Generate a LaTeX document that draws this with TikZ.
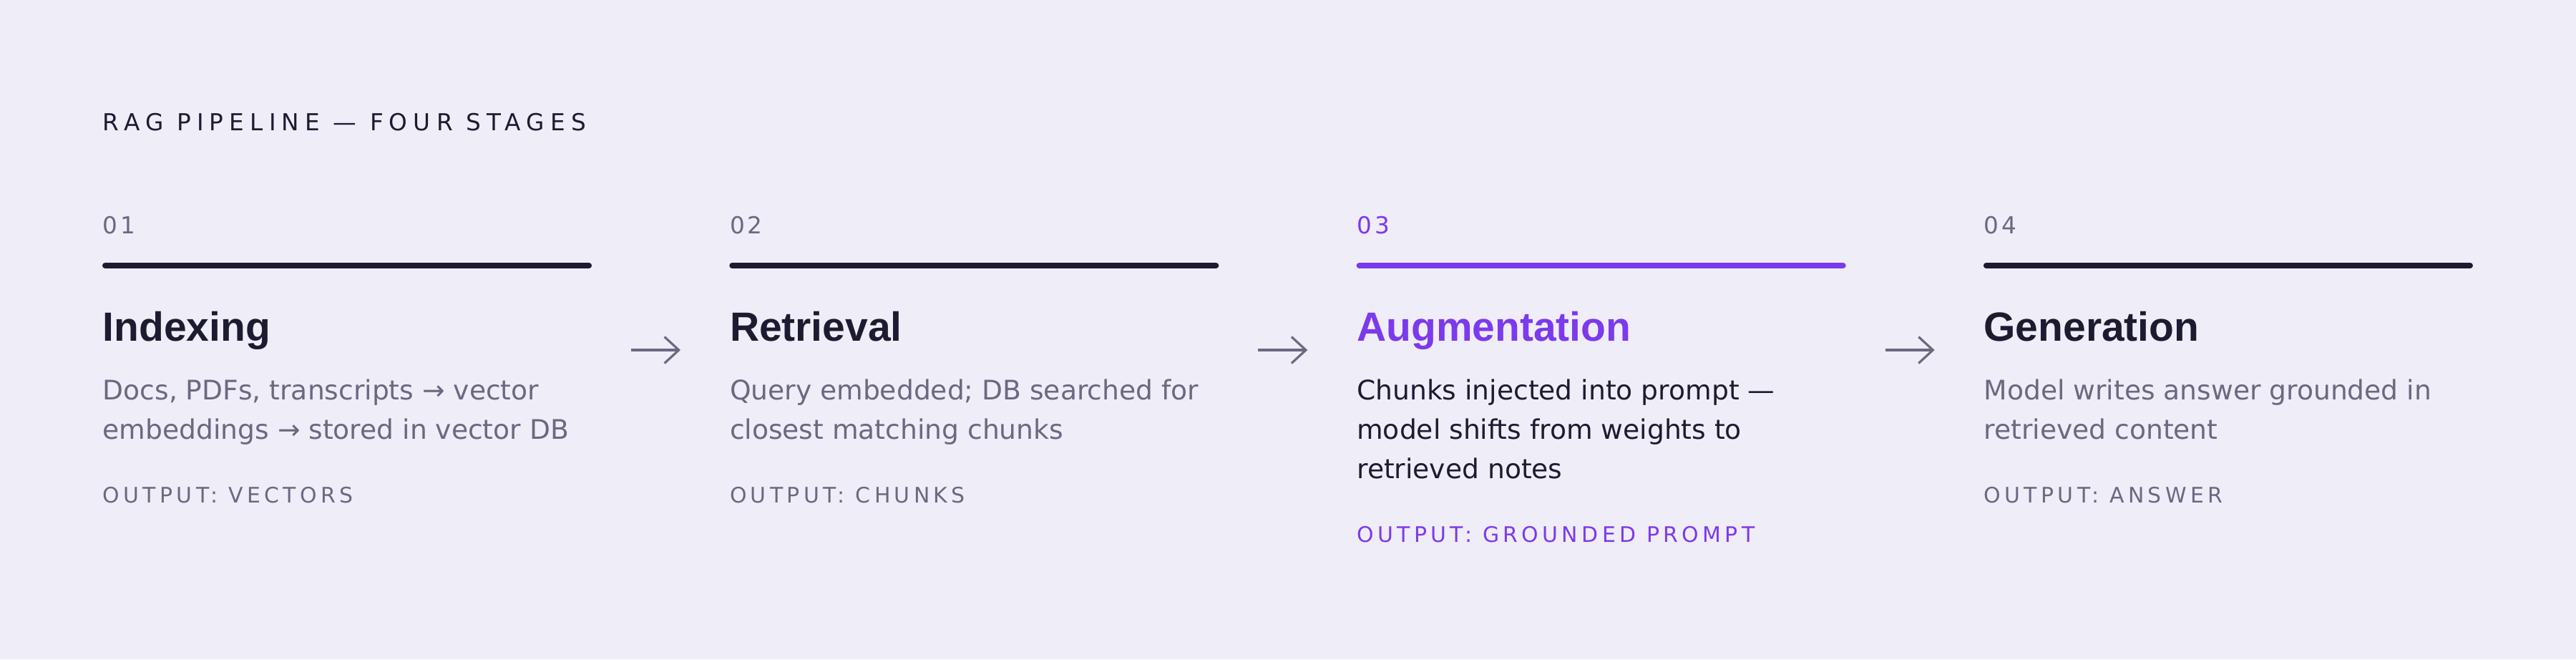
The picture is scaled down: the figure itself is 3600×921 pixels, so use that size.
\documentclass[tikz,border=0pt]{standalone}
\usepackage{fontspec}
\setmainfont{DejaVu Sans}
\newfontfamily\kopfont{Liberation Sans}
\newfontfamily\spatiefont[LetterSpace=25]{DejaVu Sans}
\newfontfamily\nummerfont[LetterSpace=12]{DejaVu Sans}
\newfontfamily\uitfont[LetterSpace=18]{DejaVu Sans}
\usetikzlibrary{calc,arrows.meta}
\definecolor{achtergrond}{HTML}{EFEDF8}
\definecolor{donker}{HTML}{1D1B30}
\definecolor{grijs}{HTML}{6B6880}
\definecolor{paars}{HTML}{7C3AED}
\NewDocumentCommand{\stapkolom}{O{grijs} O{donker} O{grijs} m m m m m}{ % kleur nummer+output, kleur balk+kop, kleur tekst, positie, nummer, titel, tekst, output
    \coordinate (K#4) at ({143+876.3*(#4-1)},0);
    \coordinate (balk#4a) at ($(K#4)+(4,371)$);
    \coordinate (balk#4b) at ($(K#4)+(680,371)$);
    \draw[#2, line width=2.3pt, line cap=round] (balk#4a) -- (balk#4b);
    \node[tekstje, text=#1] (nr#4) at ($(K#4)+(0,326)$) {\fontsize{9.3pt}{11pt}\nummerfont #5};
    \node[tekstje, text=#2] (kop#4) at ($(K#4)+(0,476)$) {\fontsize{16.2pt}{18pt}\kopfont\bfseries #6};
    \node[tekstje, text=#3] (tekst#4) at ($(K#4)+(0,558)$) {\parbox[t]{7cm}{\fontsize{10.7pt}{15.65pt}\selectfont #7\strut}};
    \node[tekstje, text=#1] (uit#4) at ($(tekst#4.south west)+(0,72.5)$) {\fontsize{8.5pt}{10pt}\uitfont #8};
}
\begin{document}
\begin{tikzpicture}[x=0.01cm, y=-0.01cm,
    tekstje/.style={anchor=base west, inner sep=0pt},
    pijl/.style={grijs, line width=0.9pt, -{Straight Barb[length=5.7pt, width=10.5pt, line width=0.9pt]}}]
    \fill[achtergrond] (0,0) rectangle (3600,921);
    \node[tekstje, text=donker] (titel) at (143,182) {\fontsize{9.3pt}{11pt}\spatiefont RAG PIPELINE — FOUR STAGES};
    \stapkolom{1}{01}{Indexing}{Docs, PDFs, transcripts → vector\\embeddings → stored in vector DB}{OUTPUT: VECTORS}
    \stapkolom{2}{02}{Retrieval}{Query embedded; DB searched for\\closest matching chunks}{OUTPUT: CHUNKS}
    \stapkolom[paars][paars][donker]{3}{03}{Augmentation}{Chunks injected into prompt —\\model shifts from weights to\\retrieved notes}{OUTPUT: GROUNDED PROMPT}
    \stapkolom{4}{04}{Generation}{Model writes answer grounded in\\retrieved content}{OUTPUT: ANSWER}
    % pijlen tussen de stappen
    \foreach \k in {1,2,3}{
        \coordinate (pijl\k a) at ({143+876.3*(\k-1)+739},489);
        \coordinate (pijl\k b) at ({143+876.3*(\k-1)+808},489);
        \draw[pijl] (pijl\k a) -- (pijl\k b);
    }
\end{tikzpicture}
\end{document}
